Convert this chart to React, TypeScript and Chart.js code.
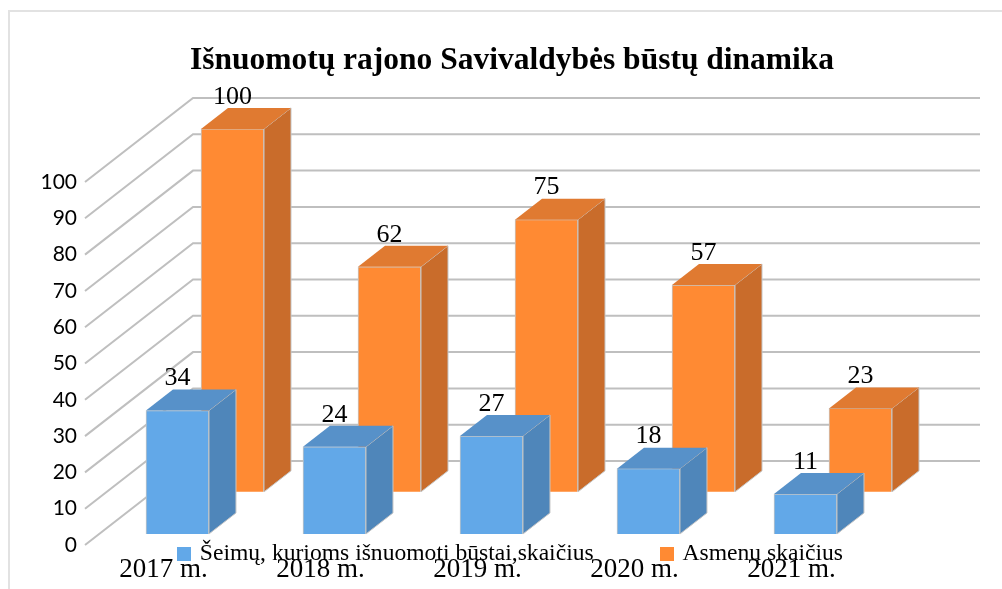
import React, { useEffect, useRef } from "react";
import { Chart, registerables } from "chart.js";

Chart.register(...registerables);

const categories = ["2017 m.", "2018 m.", "2019 m.", "2020 m.", "2021 m."];
const familyValues = [34, 24, 27, 18, 11];
const personValues = [100, 62, 75, 57, 23];
const familyName = "Šeimų, kurioms išnuomoti būstai,skaičius";
const personName = "Asmenų skaičius";
const titleText = "Išnuomotų rajono Savivaldybės būstų dinamika";

const SERIF = "'Liberation Serif', 'Times New Roman', serif";
const DEPTH_X = 27;
const DEPTH_Y = 21;
const WALL_X = 108;
const WALL_Y = 84;
const WALL_RIGHT = 980;
const GRID = "#bfbfbf";
const FAMILY_FRONT = "#62a8e8";
const PERSON_FRONT = "#ff8a33";
const faces = [
  { side: "#4f86ba", top: "#5791c9" },
  { side: "#c96c2b", top: "#e07a31" },
];

function legendSwatch(color: string) {
  const c = document.createElement("canvas");
  c.width = 14;
  c.height = 14;
  const g = c.getContext("2d") as CanvasRenderingContext2D;
  g.fillStyle = color;
  g.fillRect(0, 0, 14, 14);
  return c;
}

const threeD = {
  id: "threeD",
  beforeDraw(chart: any) {
    const { ctx, width, height } = chart;
    ctx.save();
    ctx.fillStyle = "#ffffff";
    ctx.fillRect(0, 0, width, height);
    ctx.strokeStyle = "#e2e2e2";
    ctx.lineWidth = 2;
    ctx.strokeRect(9, 11, width + 40, height + 40);
    ctx.restore();
  },
  afterLayout(chart: any) {
    const legend = chart.legend;
    const pad = legend.options.labels.padding;
    legend.left = 180 - pad;
    legend.right = chart.width;
    legend.top = 542 - pad;
    legend.bottom = chart.height;
    chart.titleBlock.left += 77;
    chart.titleBlock.right += 77;
  },
  beforeDatasetsDraw(chart: any) {
    const { ctx, scales } = chart;
    const y = scales.y;
    ctx.save();
    ctx.strokeStyle = GRID;
    ctx.lineWidth = 2;
    y.ticks.forEach((t: any) => {
      const py = y.getPixelForValue(t.value);
      ctx.beginPath();
      ctx.moveTo(y.right, py);
      ctx.lineTo(y.right + WALL_X, py - WALL_Y);
      ctx.lineTo(WALL_RIGHT, py - WALL_Y);
      ctx.stroke();
    });
    ctx.restore();
  },
  afterDatasetDraw(chart: any, args: any) {
    const { ctx } = chart;
    const c = faces[args.index];
    ctx.save();
    ctx.strokeStyle = "#c6c6c6";
    ctx.lineWidth = 1;
    args.meta.data.forEach((bar: any) => {
      const l = bar.x - bar.width / 2;
      const r = bar.x + bar.width / 2;
      ctx.fillStyle = c.side;
      ctx.beginPath();
      ctx.moveTo(r, bar.y);
      ctx.lineTo(r + DEPTH_X, bar.y - DEPTH_Y);
      ctx.lineTo(r + DEPTH_X, bar.base - DEPTH_Y);
      ctx.lineTo(r, bar.base);
      ctx.closePath();
      ctx.fill();
      ctx.stroke();
      ctx.fillStyle = c.top;
      ctx.beginPath();
      ctx.moveTo(l, bar.y);
      ctx.lineTo(l + DEPTH_X, bar.y - DEPTH_Y);
      ctx.lineTo(r + DEPTH_X, bar.y - DEPTH_Y);
      ctx.lineTo(r, bar.y);
      ctx.closePath();
      ctx.fill();
    });
    ctx.restore();
  },
  afterDatasetsDraw(chart: any) {
    const { ctx } = chart;
    ctx.save();
    ctx.fillStyle = "#000000";
    ctx.font = `26px ${SERIF}`;
    ctx.textAlign = "center";
    ctx.textBaseline = "middle";
    [1, 0].forEach((i) => {
      const meta = chart.getDatasetMeta(i);
      meta.data.forEach((bar: any, k: number) => {
        ctx.fillText(String(chart.data.datasets[i].data[k].y), bar.x, bar.y - DEPTH_Y - 11);
      });
    });
    ctx.restore();
  },
};

export default function App() {
  const ref = useRef<HTMLCanvasElement>(null);
  useEffect(() => {
    const swatches = [legendSwatch(FAMILY_FRONT), legendSwatch(PERSON_FRONT)];
    const chart = new Chart(ref.current as HTMLCanvasElement, {
      type: "bar",
      plugins: [threeD],
      data: {
        labels: categories,
        datasets: [
          {
            label: familyName,
            data: familyValues.map((y, x) => ({ x, y })),
            xAxisID: "xFamily",
            yAxisID: "yFamily",
            backgroundColor: FAMILY_FRONT,
            borderColor: "#c6c6c6",
            borderWidth: 1,
            barThickness: 63,
            grouped: false,
            clip: false,
          },
          {
            label: personName,
            data: personValues.map((y, x) => ({ x, y })),
            xAxisID: "xPerson",
            yAxisID: "yPerson",
            backgroundColor: PERSON_FRONT,
            borderColor: "#c6c6c6",
            borderWidth: 1,
            barThickness: 63,
            grouped: false,
            clip: false,
          },
        ] as any,
      },
      options: {
        animation: false,
        responsive: false,
        layout: { padding: { left: 0, right: 132, top: 0, bottom: 0 } },
        plugins: {
          tooltip: { enabled: false },
          title: {
            display: true,
            text: titleText,
            color: "#000000",
            font: { family: SERIF, size: 31.5, weight: "bold" },
            padding: { top: 42, bottom: 10 },
          },
          legend: {
            display: true,
            position: "bottom",
            align: "start",
            maxHeight: 1,
            labels: {
              boxWidth: 8,
              boxHeight: 14,
              padding: 69,
              usePointStyle: true,
              pointStyleWidth: 8,
              color: "#000000",
              font: { family: SERIF, size: 23.6 },
              generateLabels: (c: any) =>
                Chart.defaults.plugins.legend.labels
                  .generateLabels(c)
                  .map((item: any, i: number) => ({ ...item, pointStyle: swatches[i] })),
            },
          } as any,
        },
        scales: {
          x: {
            type: "category",
            offset: true,
            grid: { display: false },
            border: { display: false },
            afterFit: (s: any) => {
              s.height = 43;
            },
            ticks: {
              color: "#000000",
              padding: 1,
              maxRotation: 0,
              autoSkip: false,
              font: { family: SERIF, size: 27 },
            },
          },
          y: {
            type: "linear",
            min: 0,
            max: 125.41,
            grid: { display: false },
            border: { display: false },
            afterFit: (s: any) => {
              s.width = 85;
            },
            afterBuildTicks: (s: any) => {
              s.ticks = s.ticks.filter((t: any) => t.value <= 100);
            },
            ticks: {
              stepSize: 10,
              color: "#000000",
              padding: 0,
              font: { family: "Lato", size: 21 },
            },
          },
          xFamily: { type: "linear", display: false, offset: false, min: -0.589, max: 4.411 },
          xPerson: { type: "linear", display: false, offset: false, min: -0.9395, max: 4.0605 },
          yFamily: { type: "linear", display: false, min: -3.04, max: 122.37 },
          yPerson: { type: "linear", display: false, min: -14.64, max: 110.77 },
        },
      } as any,
    });
    return () => chart.destroy();
  }, []);
  return (
    <div style={{ position: "absolute", left: 0, top: 0, width: 1002, height: 589, overflow: "hidden" }}>
      <canvas ref={ref} width={1002} height={589} style={{ display: "block" }} />
    </div>
  );
}
